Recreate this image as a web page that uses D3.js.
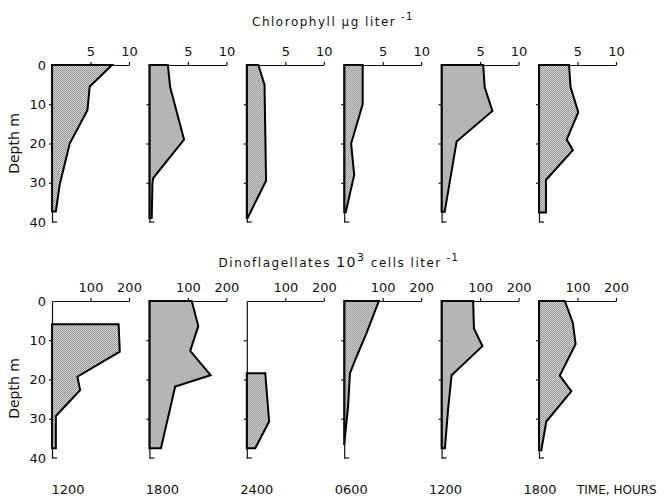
<!DOCTYPE html>
<html>
<head>
<meta charset="utf-8">
<script src="https://d3js.org/d3.v7.min.js"></script>
<style>
    body { margin: 0; background: #fff; }
    svg text { font-family: 'DejaVu Sans', sans-serif; fill: #111; }
    .tick text { font-size: 13px; }
    .tick line, .domain { stroke: #111; stroke-width: 1.2; }
    .profile { stroke: #000; stroke-width: 2; stroke-linejoin: miter; }
</style>
</head>
<body>
<svg id="chart" width="664" height="498"></svg>
<script>
    // sampling times, one per column
    const times = ["1200", "1800", "2400", "0600", "1200", "1800"];

    // chlorophyll profiles (depth m, µg/l)
    const chlDepths = [
        [0, 5.5, 11.5, 20, 30.5, 37.3],
        [0, 5.7, 19, 28.8, 30, 39],
        [0, 5, 29.5, 39],
        [0, 10, 20, 28, 37.5],
        [0, 5.7, 11.7, 19.5, 37.4],
        [0, 5.6, 12, 19, 21.7, 29.3, 37.6]
    ];
    const chlValues = [
        [7.8, 4.9, 4.6, 2.3, 1.0, 0.5],
        [2.4, 2.7, 4.5, 0.5, 0.4, 0.3],
        [1.5, 2.3, 2.5, 0.1],
        [2.4, 2.4, 0.9, 1.3, 0.2],
        [5.4, 5.6, 6.6, 1.95, 0.4],
        [3.9, 4.1, 5.1, 3.6, 4.4, 0.9, 0.9]
    ];

    // dinoflagellate profiles (depth m, 10^3 cells/l)
    const dinoDepths = [
        [5.9, 5.9, 12.9, 19.3, 22.7, 29.3, 37.5],
        [0, 6.4, 12.7, 18.9, 21.8, 37.5],
        [18.4, 18.4, 30.7, 37.5],
        [0, 8.2, 14.2, 18.4, 27, 34.6, 36.7],
        [0, 7, 11.5, 18.9, 27.4, 37.5],
        [0, 5.6, 11, 19, 23, 30.7, 38]
    ];
    const dinoValues = [
        [0, 173, 176, 66, 73, 10, 10],
        [110, 127, 106, 159, 67, 30],
        [0, 48, 58, 22],
        [90, 58, 32, 15, 10, 2, 0],
        [82, 84, 106, 26, 17, 8.6],
        [67, 88, 95, 54, 84, 19, 6]
    ];

    const chlTicks = [5, 10];
    const dinoTicks = [100, 200];
    const depthTicks = [0, 10, 20, 30, 40];

    const panelLeft = d3.scaleLinear().domain([0, times.length - 1]).range([52, 539]);
    const labelCenter = d3.scaleLinear().domain([0, times.length - 1]).range([68, 540]);
    const panelW = 77;

    const svg = d3.select("#chart");

    const defs = svg.append("defs");
    const pat = defs.append("pattern")
        .attr("id", "stipple")
        .attr("width", 2).attr("height", 2)
        .attr("patternUnits", "userSpaceOnUse");
    pat.append("rect").attr("width", 2).attr("height", 2).attr("fill", "#d6d6d6");
    pat.append("rect").attr("width", 1).attr("height", 1).attr("fill", "#8e8e8e");
    pat.append("rect").attr("x", 1).attr("y", 1).attr("width", 1).attr("height", 1).attr("fill", "#9a9a9a");

    const rows = [
        { depths: chlDepths, values: chlValues, max: 10, ticks: chlTicks, top: 65, bottom: 222, labelShift: 0 },
        { depths: dinoDepths, values: dinoValues, max: 200, ticks: dinoTicks, top: 301, bottom: 458, labelShift: 9 }
    ];

    rows.forEach(row => {
        const y = d3.scaleLinear().domain([0, 40]).range([row.top, row.bottom]);
        const x = d3.scaleLinear().domain([0, row.max]).range([0, panelW]);
        const line = d3.line()
            .x(p => x(p[0]))
            .y(p => y(p[1]));

        times.forEach((t, i) => {
            const g = svg.append("g")
                .attr("transform", `translate(${panelLeft(i)},0)`);

            const ds = row.depths[i], vs = row.values[i];
            const pts = [[0, ds[0]]].concat(ds.map((d, k) => [vs[k], d]), [[0, ds[ds.length - 1]]]);
            g.append("path")
                .attr("class", "profile")
                .attr("d", line(pts) + "Z")
                .attr("fill", "url(#stipple)");

            // value axis along the surface
            g.append("g")
                .attr("transform", `translate(0,${row.top})`)
                .call(d3.axisTop(x).tickValues(row.ticks).tickSize(3).tickSizeOuter(0).tickPadding(6));

            // depth axis
            const yAxis = d3.axisLeft(y).tickSize(3).tickSizeOuter(0).tickPadding(3);
            if (i === 0) {
                yAxis.tickValues(depthTicks);
            } else {
                yAxis.tickValues([10, 20, 30]).tickFormat("");
            }
            const ya = g.append("g").call(yAxis);
            ya.selectAll(".tick").filter(d => d === 0 || d === 40).select("line").remove();
            g.append("line")
                .attr("x1", 0).attr("x2", 5)
                .attr("y1", y(40)).attr("y2", y(40))
                .attr("stroke", "#111").attr("stroke-width", 1.2);

            if (i === 0) {
                svg.append("text")
                    .attr("transform", `translate(19,${(row.top + row.bottom) / 2 + row.labelShift}) rotate(-90)`)
                    .attr("text-anchor", "middle")
                    .style("font-size", "14px")
                    .text("Depth m");
            }
        });
    });

    // column titles
    const t1 = svg.append("text")
        .attr("x", 333).attr("y", 26)
        .attr("text-anchor", "middle")
        .style("font-size", "12px")
        .style("letter-spacing", "1.5px");
    t1.append("tspan").text("Chlorophyll µg liter");
    t1.append("tspan").attr("dy", -6).style("font-size", "10px").text(" -1");

    const t2 = svg.append("text")
        .attr("x", 339).attr("y", 267)
        .attr("text-anchor", "middle")
        .style("font-size", "12px")
        .style("letter-spacing", "1.5px");
    t2.append("tspan").text("Dinoflagellates ");
    t2.append("tspan").style("font-size", "14px").text("10");
    t2.append("tspan").attr("dy", -6).style("font-size", "11px").text("3");
    t2.append("tspan").attr("dy", 6).text(" cells liter");
    t2.append("tspan").attr("dy", -6).style("font-size", "10px").text(" -1");

    // time labels
    svg.selectAll("text.time")
        .data(times)
        .join("text")
        .attr("class", "time")
        .attr("x", (d, i) => labelCenter(i))
        .attr("y", 494)
        .attr("text-anchor", "middle")
        .style("font-size", "13px")
        .text(d => d);

    svg.append("text")
        .attr("x", 577).attr("y", 494)
        .style("font-size", "12px")
        .text("TIME, HOURS");
</script>
</body>
</html>
